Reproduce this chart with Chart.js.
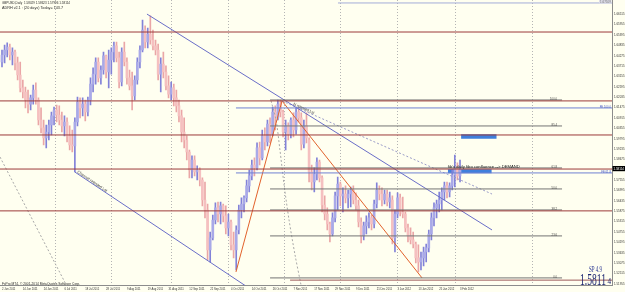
<!DOCTYPE html>
<html lang="en">
<head>
<meta charset="UTF-8">
<title>GBPUSD Daily</title>
<style>
    html, body { margin: 0; padding: 0; background: #fffff0; }
    canvas { display: block; }
</style>
<script src="https://cdn.jsdelivr.net/npm/chart.js"></script>
</head>
<body>
<canvas id="chart" width="625" height="292"></canvas>
<script>
// bar 0 = 2 Jun 2011, one date label every 8 bars
var dateLabels = ['2 Jun 2011', '14 Jun 2011', '24 Jun 2011', '6 Jul 2011', '18 Jul 2011', '28 Jul 2011',
    '9 Aug 2011', '19 Aug 2011', '31 Aug 2011', '12 Sep 2011', '22 Sep 2011', '4 Oct 2011', '14 Oct 2011',
    '26 Oct 2011', '7 Nov 2011', '17 Nov 2011', '29 Nov 2011', '9 Dec 2011', '21 Dec 2011', '3 Jan 2012',
    '13 Jan 2012', '25 Jan 2012', '3 Feb 2012'];

var opens = [
    1.6392, 1.6430, 1.6457, 1.6473, 1.6430, 1.6446, 1.6387, 1.6322, 1.6252, 1.6230,
    1.6187, 1.6165, 1.6198, 1.6241, 1.6187, 1.6079, 1.6036, 1.5982, 1.6014, 1.6052,
    1.6101, 1.6133, 1.6106, 1.6079, 1.6047, 1.6068, 1.5993, 1.5944, 1.5939, 1.6068,
    1.6176, 1.6144, 1.6165, 1.6122, 1.6187, 1.6273, 1.6327, 1.6392, 1.6306, 1.6349,
    1.6425, 1.6338, 1.6403, 1.6446, 1.6479, 1.6414, 1.6284, 1.6446, 1.6392, 1.6306,
    1.6263, 1.6209, 1.6295, 1.6392, 1.6457, 1.6565, 1.6500, 1.6543, 1.6511, 1.6479,
    1.6457, 1.6327, 1.6381, 1.6338, 1.6263, 1.6219, 1.6252, 1.6198, 1.6155, 1.6101,
    1.6014, 1.5971, 1.5906, 1.5809, 1.5863, 1.5798, 1.5809, 1.5755, 1.5647, 1.5593,
    1.5377, 1.5442, 1.5539, 1.5604, 1.5571, 1.5615, 1.5561, 1.5496, 1.5528, 1.5404,
    1.5377, 1.5485, 1.5593, 1.5625, 1.5658, 1.5723, 1.5777, 1.5836, 1.5820, 1.5928,
    1.5874, 1.5993, 1.5960, 1.6057, 1.6003, 1.6122, 1.6090, 1.6165, 1.6122, 1.6014,
    1.6047, 1.6003, 1.6079, 1.6025, 1.6122, 1.6090, 1.5949, 1.6047, 1.5971, 1.5798,
    1.5744, 1.5787, 1.5852, 1.5766, 1.5620, 1.5571, 1.5517, 1.5463, 1.5550, 1.5669,
    1.5733, 1.5669, 1.5679, 1.5658, 1.5679, 1.5701, 1.5647, 1.5615, 1.5528, 1.5453,
    1.5507, 1.5528, 1.5550, 1.5517, 1.5625, 1.5701, 1.5679, 1.5647, 1.5679, 1.5636,
    1.5647, 1.5442, 1.5571, 1.5658, 1.5582, 1.5571, 1.5496, 1.5453, 1.5431, 1.5409,
    1.5334, 1.5312, 1.5334, 1.5366, 1.5388, 1.5463, 1.5550, 1.5604, 1.5625, 1.5647,
    1.5690, 1.5723, 1.5690, 1.5723, 1.5782, 1.5820, 1.5777];
var highs = [
    1.6457, 1.6484, 1.6495, 1.6489, 1.6468, 1.6457, 1.6419, 1.6392, 1.6295, 1.6257,
    1.6241, 1.6214, 1.6268, 1.6279, 1.6198, 1.6144, 1.6079, 1.6052, 1.6079, 1.6122,
    1.6149, 1.6160, 1.6155, 1.6122, 1.6101, 1.6090, 1.6047, 1.6025, 1.6090, 1.6203,
    1.6198, 1.6198, 1.6187, 1.6203, 1.6306, 1.6360, 1.6414, 1.6414, 1.6371, 1.6446,
    1.6430, 1.6457, 1.6468, 1.6500, 1.6500, 1.6446, 1.6468, 1.6500, 1.6414, 1.6349,
    1.6338, 1.6317, 1.6414, 1.6479, 1.6619, 1.6587, 1.6576, 1.6641, 1.6565, 1.6511,
    1.6489, 1.6414, 1.6446, 1.6371, 1.6317, 1.6284, 1.6273, 1.6241, 1.6187, 1.6133,
    1.6090, 1.5993, 1.5917, 1.5885, 1.5885, 1.5831, 1.5820, 1.5766, 1.5744, 1.5625,
    1.5474, 1.5566, 1.5631, 1.5636, 1.5636, 1.5625, 1.5615, 1.5571, 1.5539, 1.5474,
    1.5507, 1.5620, 1.5658, 1.5669, 1.5755, 1.5809, 1.5863, 1.5874, 1.5955, 1.5960,
    1.6025, 1.6036, 1.6079, 1.6090, 1.6149, 1.6155, 1.6187, 1.6187, 1.6133, 1.6079,
    1.6063, 1.6090, 1.6117, 1.6144, 1.6144, 1.6117, 1.6079, 1.6117, 1.5982, 1.5836,
    1.5820, 1.5874, 1.5863, 1.5777, 1.5669, 1.5604, 1.5528, 1.5577, 1.5690, 1.5771,
    1.5744, 1.5712, 1.5723, 1.5701, 1.5717, 1.5723, 1.5685, 1.5647, 1.5550, 1.5528,
    1.5561, 1.5577, 1.5566, 1.5647, 1.5739, 1.5723, 1.5712, 1.5701, 1.5701, 1.5690,
    1.5669, 1.5593, 1.5685, 1.5679, 1.5663, 1.5582, 1.5517, 1.5496, 1.5474, 1.5420,
    1.5404, 1.5366, 1.5393, 1.5409, 1.5485, 1.5577, 1.5631, 1.5647, 1.5690, 1.5712,
    1.5744, 1.5744, 1.5739, 1.5809, 1.5890, 1.5847, 1.5863];
var lows = [
    1.6365, 1.6387, 1.6419, 1.6403, 1.6376, 1.6349, 1.6295, 1.6230, 1.6198, 1.6144,
    1.6117, 1.6133, 1.6165, 1.6165, 1.6052, 1.6009, 1.5944, 1.5928, 1.5971, 1.5998,
    1.6052, 1.6068, 1.6052, 1.6014, 1.5993, 1.5960, 1.5917, 1.5906, 1.5798, 1.6047,
    1.6090, 1.6101, 1.6074, 1.6101, 1.6160, 1.6230, 1.6273, 1.6284, 1.6273, 1.6327,
    1.6306, 1.6252, 1.6327, 1.6392, 1.6392, 1.6252, 1.6263, 1.6371, 1.6273, 1.6241,
    1.6133, 1.6187, 1.6273, 1.6360, 1.6446, 1.6468, 1.6468, 1.6489, 1.6457, 1.6430,
    1.6295, 1.6230, 1.6306, 1.6241, 1.6198, 1.6187, 1.6155, 1.6122, 1.6068, 1.5960,
    1.5928, 1.5863, 1.5766, 1.5766, 1.5777, 1.5755, 1.5723, 1.5615, 1.5550, 1.5323,
    1.5312, 1.5431, 1.5517, 1.5528, 1.5517, 1.5528, 1.5463, 1.5453, 1.5377, 1.5334,
    1.5269, 1.5463, 1.5550, 1.5582, 1.5636, 1.5690, 1.5755, 1.5777, 1.5809, 1.5836,
    1.5863, 1.5917, 1.5939, 1.5955, 1.5993, 1.6025, 1.6079, 1.6095, 1.5987, 1.5917,
    1.5971, 1.5982, 1.5987, 1.6003, 1.6068, 1.5917, 1.5928, 1.5955, 1.5744, 1.5701,
    1.5690, 1.5755, 1.5744, 1.5582, 1.5539, 1.5485, 1.5420, 1.5453, 1.5528, 1.5593,
    1.5615, 1.5582, 1.5631, 1.5604, 1.5609, 1.5625, 1.5593, 1.5501, 1.5415, 1.5431,
    1.5463, 1.5496, 1.5485, 1.5496, 1.5604, 1.5647, 1.5615, 1.5625, 1.5615, 1.5604,
    1.5409, 1.5366, 1.5550, 1.5561, 1.5550, 1.5474, 1.5420, 1.5409, 1.5388, 1.5307,
    1.5258, 1.5269, 1.5291, 1.5312, 1.5366, 1.5431, 1.5507, 1.5550, 1.5582, 1.5593,
    1.5647, 1.5658, 1.5663, 1.5701, 1.5717, 1.5755, 1.5744];
var closes = [
    1.6430, 1.6457, 1.6473, 1.6430, 1.6446, 1.6387, 1.6322, 1.6252, 1.6230, 1.6187,
    1.6165, 1.6198, 1.6241, 1.6187, 1.6079, 1.6036, 1.5982, 1.6014, 1.6052, 1.6101,
    1.6133, 1.6106, 1.6079, 1.6047, 1.6068, 1.5993, 1.5944, 1.5939, 1.6068, 1.6176,
    1.6144, 1.6165, 1.6122, 1.6187, 1.6273, 1.6327, 1.6392, 1.6306, 1.6349, 1.6425,
    1.6338, 1.6403, 1.6446, 1.6479, 1.6414, 1.6284, 1.6446, 1.6392, 1.6306, 1.6263,
    1.6209, 1.6295, 1.6392, 1.6457, 1.6565, 1.6500, 1.6543, 1.6511, 1.6479, 1.6457,
    1.6327, 1.6381, 1.6338, 1.6263, 1.6219, 1.6252, 1.6198, 1.6155, 1.6101, 1.6014,
    1.5971, 1.5906, 1.5809, 1.5863, 1.5798, 1.5809, 1.5755, 1.5647, 1.5593, 1.5377,
    1.5442, 1.5539, 1.5604, 1.5571, 1.5615, 1.5561, 1.5496, 1.5528, 1.5404, 1.5377,
    1.5485, 1.5593, 1.5625, 1.5658, 1.5723, 1.5777, 1.5836, 1.5820, 1.5928, 1.5874,
    1.5993, 1.5960, 1.6057, 1.6003, 1.6122, 1.6090, 1.6165, 1.6122, 1.6014, 1.6047,
    1.6003, 1.6079, 1.6025, 1.6122, 1.6090, 1.5949, 1.6047, 1.5982, 1.5798, 1.5744,
    1.5787, 1.5852, 1.5766, 1.5620, 1.5571, 1.5517, 1.5463, 1.5550, 1.5669, 1.5733,
    1.5669, 1.5679, 1.5658, 1.5679, 1.5701, 1.5647, 1.5615, 1.5528, 1.5453, 1.5507,
    1.5528, 1.5550, 1.5517, 1.5625, 1.5701, 1.5679, 1.5647, 1.5679, 1.5636, 1.5658,
    1.5442, 1.5571, 1.5658, 1.5582, 1.5571, 1.5496, 1.5453, 1.5431, 1.5409, 1.5334,
    1.5312, 1.5334, 1.5366, 1.5388, 1.5463, 1.5550, 1.5604, 1.5625, 1.5647, 1.5690,
    1.5723, 1.5690, 1.5723, 1.5782, 1.5820, 1.5777, 1.5811];

var priceTicks = [1.66515, 1.65955, 1.65395, 1.64835, 1.64275, 1.63715, 1.63155, 1.62595, 1.62035,
    1.61475, 1.60915, 1.60355, 1.59795, 1.59235, 1.58675, 1.58115, 1.57555, 1.56995, 1.56435,
    1.55875, 1.55315, 1.54755, 1.54195, 1.53635, 1.53075, 1.52515, 1.51955];
var gridBars = [20.4, 41.9, 65, 86.9, 108.4, 129.9, 151.8, 174.1, 203.7];

// drawn objects, in [bar, price]
var srLevels = [1.6554, 1.6182, 1.5998, 1.5814, 1.5588];
var baseLine = [[110.7, 1.5214], [234.4, 1.5214]];
var topLine = [[129.1, 1.6711], [234.4, 1.6711]];
var feLevels = [1.6144, 1.5793];
var feNames = ['FE 100.0', 'FE 61.8'];
var fibHigh = 1.6187, fibLow = 1.5226;
var fibRatios = [0, 0.236, 0.382, 0.5, 0.618, 0.854, 1];
var channelTop = [[55.7, 1.6651], [188.3, 1.5485]];
var channelBottom = [[28, 1.5798], [93.4, 1.5185]];
var retestLine = [[107.6, 1.6182], [188.3, 1.5679]];
var swing = [[89.9, 1.5258], [107.6, 1.6182], [161.4, 1.5226]];
var arcLeft = [[-0.77, 1.5879], [24.8, 1.5185]];
var arcMid = [[103.4, 1.6182], [105.3, 1.6079], [106.8, 1.5917], [108.4, 1.5728],
    [110.3, 1.5539], [112.6, 1.5350], [114.9, 1.5188]];
var zones = [[176.4, 190.1, 1.6002, 1.5978], [171.3, 188.2, 1.5813, 1.5791]];

var X_MIN = -0.77, X_MAX = 234.4, Y_MIN = 1.5185, Y_MAX = 1.6727;
var FIB_FROM = 103, FIB_TO = 215.2, FE_FROM = 89.9;

function pts(list) {
    return list.map(function (p) { return { x: p[0], y: p[1] }; });
}
function line(list, color, extra) {
    var ds = { type: 'line', data: pts(list), borderColor: color, borderWidth: 1, pointRadius: 0,
        pointHitRadius: 0, fill: false, tension: 0, order: 1 };
    return Object.assign(ds, extra || {});
}

var datasets = [];
zones.forEach(function (z) {
    datasets.push({ type: 'line', data: pts([[z[0], z[2]], [z[1], z[2]]]), fill: { value: z[3] },
        backgroundColor: '#3f7fdc', borderWidth: 0, pointRadius: 0, order: 30 });
});

var up = closes.map(function (c, i) { return c >= opens[i]; });
datasets.push({ type: 'bar', grouped: false, barThickness: 1, order: 20,
    data: highs.map(function (h, i) { return { x: i, y: [lows[i], h] }; }),
    backgroundColor: up.map(function (u) { return u ? '#8282d8' : '#eaa6a6'; }) });
datasets.push({ type: 'bar', grouped: false, barThickness: 2, minBarLength: 1, order: 19,
    data: opens.map(function (o, i) { return { x: i, y: [o, closes[i]] }; }),
    backgroundColor: up.map(function (u) { return u ? '#a9a9e8' : '#f5c0c0'; }) });

srLevels.forEach(function (p) { datasets.push(line([[X_MIN, p], [X_MAX, p]], '#9c3a3a')); });
datasets.push(line(baseLine, '#9c5a5a'));
datasets.push(line(topLine, '#a3acd8'));
feLevels.forEach(function (p) { datasets.push(line([[FE_FROM, p], [X_MAX, p]], '#6f80d2')); });
fibRatios.forEach(function (r) {
    var p = fibLow + r * (fibHigh - fibLow);
    datasets.push(line([[FIB_FROM, p], [FIB_TO, p]], '#747474'));
});
datasets.push(line(channelTop, '#6a6ec8'));
datasets.push(line(channelBottom, '#6a6ec8'));
datasets.push(line(retestLine, '#9a9cc8', { borderDash: [2, 2] }));
datasets.push(line(swing, '#e2622c'));
datasets.push(line(arcLeft, '#a8a8a8', { borderDash: [2, 2] }));
datasets.push(line(arcMid, '#a8a8a8', { borderDash: [2, 2], tension: 0.3 }));

function put(g, s, x, y, o) {
    g.save();
    g.font = o.size + 'px ' + (o.family || '"Liberation Sans", Arial, sans-serif');
    var sx = o.sx || 1;
    if (o.w) sx = o.w / g.measureText(s).width;
    g.translate(x, y);
    if (o.rot) g.rotate(o.rot);
    g.scale(sx, 1);
    g.fillStyle = o.color || '#2a2a2a';
    g.textAlign = o.align || 'left';
    g.textBaseline = o.base || 'alphabetic';
    g.fillText(s, 0, 0);
    g.restore();
}

var overlay = {
    id: 'overlay',
    beforeDraw: function (c) {
        var g = c.ctx;
        g.save();
        g.fillStyle = '#fffff0';
        g.fillRect(0, 0, c.width, c.height);
        g.restore();
    },
    afterDraw: function (c) {
        var g = c.ctx, a = c.chartArea, xs = c.scales.x, ys = c.scales.y;
        var px = function (v) { return xs.getPixelForValue(v); };
        var py = function (v) { return ys.getPixelForValue(v); };
        var ang = function (l) { return Math.atan2(py(l[1][1]) - py(l[0][1]), px(l[1][0]) - px(l[0][0])); };
        var at = function (l, b) { return l[0][1] + (b - l[0][0]) / (l[1][0] - l[0][0]) * (l[1][1] - l[0][1]); };

        put(g, 'GBPUSD,Daily  1.58029 1.58623 1.57996 1.58114', 2, 1, { size: 4, w: 68, base: 'top' });
        put(g, 'ADRH v2.1 : (20 days) Today= 143.7', 2, 5.5, { size: 4, w: 61, base: 'top' });
        put(g, 'FxPro MT4, \u00a9 2001-2014 MetaQuotes Software Corp.', 2, a.bottom - 0.6, { size: 4, w: 78 });

        dateLabels.forEach(function (s, k) {
            put(g, s, px(k * 8), a.bottom + 1.6, { size: 4, sx: 0.68, base: 'top', color: '#333' });
        });
        priceTicks.forEach(function (v) {
            put(g, v.toFixed(5), a.right + 2, py(v), { size: 4, w: 10.5, base: 'middle', color: '#333' });
        });

        fibRatios.forEach(function (r) {
            var p = fibLow + r * (fibHigh - fibLow);
            put(g, (r * 100).toFixed(1), px(FIB_TO) - 5, py(p) - 0.4, { size: 4, sx: 0.7, align: 'right', color: '#444' });
        });
        feLevels.forEach(function (p, k) {
            put(g, feNames[k], a.right - 1, py(p) - 0.4, { size: 4, sx: 0.7, align: 'right', color: '#4a5cc8' });
        });

        put(g, 'Channel retested Lst', px(28.8), py(at(channelBottom, 28.8)) - 0.8,
            { size: 4, sx: 0.95, rot: ang(channelBottom), color: '#333' });
        put(g, 'hi retested Lst', px(111.8), py(at(retestLine, 111.8)) - 0.8,
            { size: 4, sx: 0.9, rot: ang(retestLine), color: '#333' });
        put(g, "fib's daily fibo confluence --> DEMAND", px(zones[1][0]), py(zones[1][2]) - 1,
            { size: 4, w: 72, color: '#222' });

        // top object label
        g.fillStyle = '#dcdce8';
        g.fillRect(a.right - 13, 0, 12.5, 3.6);
        put(g, '1.67109', a.right - 1, 0.2, { size: 3.5, w: 11, align: 'right', base: 'top', color: '#777' });

        // bid box on the price scale
        var yb = py(closes[closes.length - 1]);
        g.fillStyle = '#000';
        g.fillRect(a.right + 0.5, yb - 3.6, 12.5, 5.2);
        put(g, '1.58114', a.right + 1.5, yb - 1, { size: 4, w: 10.5, base: 'middle', color: '#fff' });

        put(g, 'SP 4.9', 602, 271.5, { size: 8, w: 13, align: 'right', color: '#23308f',
            family: '"Liberation Serif", "DejaVu Serif", serif' });
        put(g, '1.5811', 606, 285.4, { size: 16, w: 26, align: 'right', color: '#1b2570',
            family: '"Liberation Serif", "DejaVu Serif", serif' });
        put(g, '4', 611, 284, { size: 8, w: 3.6, align: 'right', color: '#1b2570',
            family: '"Liberation Serif", "DejaVu Serif", serif' });
    }
};

new Chart(document.getElementById('chart').getContext('2d'), {
    type: 'bar',
    data: { datasets: datasets },
    options: {
        responsive: false,
        animation: false,
        events: [],
        layout: { padding: 0 },
        plugins: { legend: { display: false }, tooltip: { enabled: false } },
        scales: {
            x: {
                type: 'linear', min: X_MIN, max: X_MAX, offset: false,
                ticks: { display: false }, grid: { display: false, offset: false },
                border: { color: '#8c8c8c' },
                afterFit: function (s) { s.height = 6.5; }
            },
            xg: {
                type: 'linear', position: 'top', min: X_MIN, max: X_MAX, offset: false,
                ticks: { display: false },
                grid: { color: '#b4b4b4', drawTicks: false, offset: false },
                border: { display: false, dash: [1, 2] },
                afterBuildTicks: function (s) { s.ticks = gridBars.map(function (v) { return { value: v }; }); },
                afterFit: function (s) { s.height = 0; }
            },
            y: {
                position: 'right', min: Y_MIN, max: Y_MAX, beginAtZero: false,
                ticks: { display: false }, grid: { display: false },
                border: { color: '#8c8c8c' },
                afterFit: function (s) { s.width = 13; }
            }
        }
    },
    plugins: [overlay]
});
</script>
</body>
</html>
